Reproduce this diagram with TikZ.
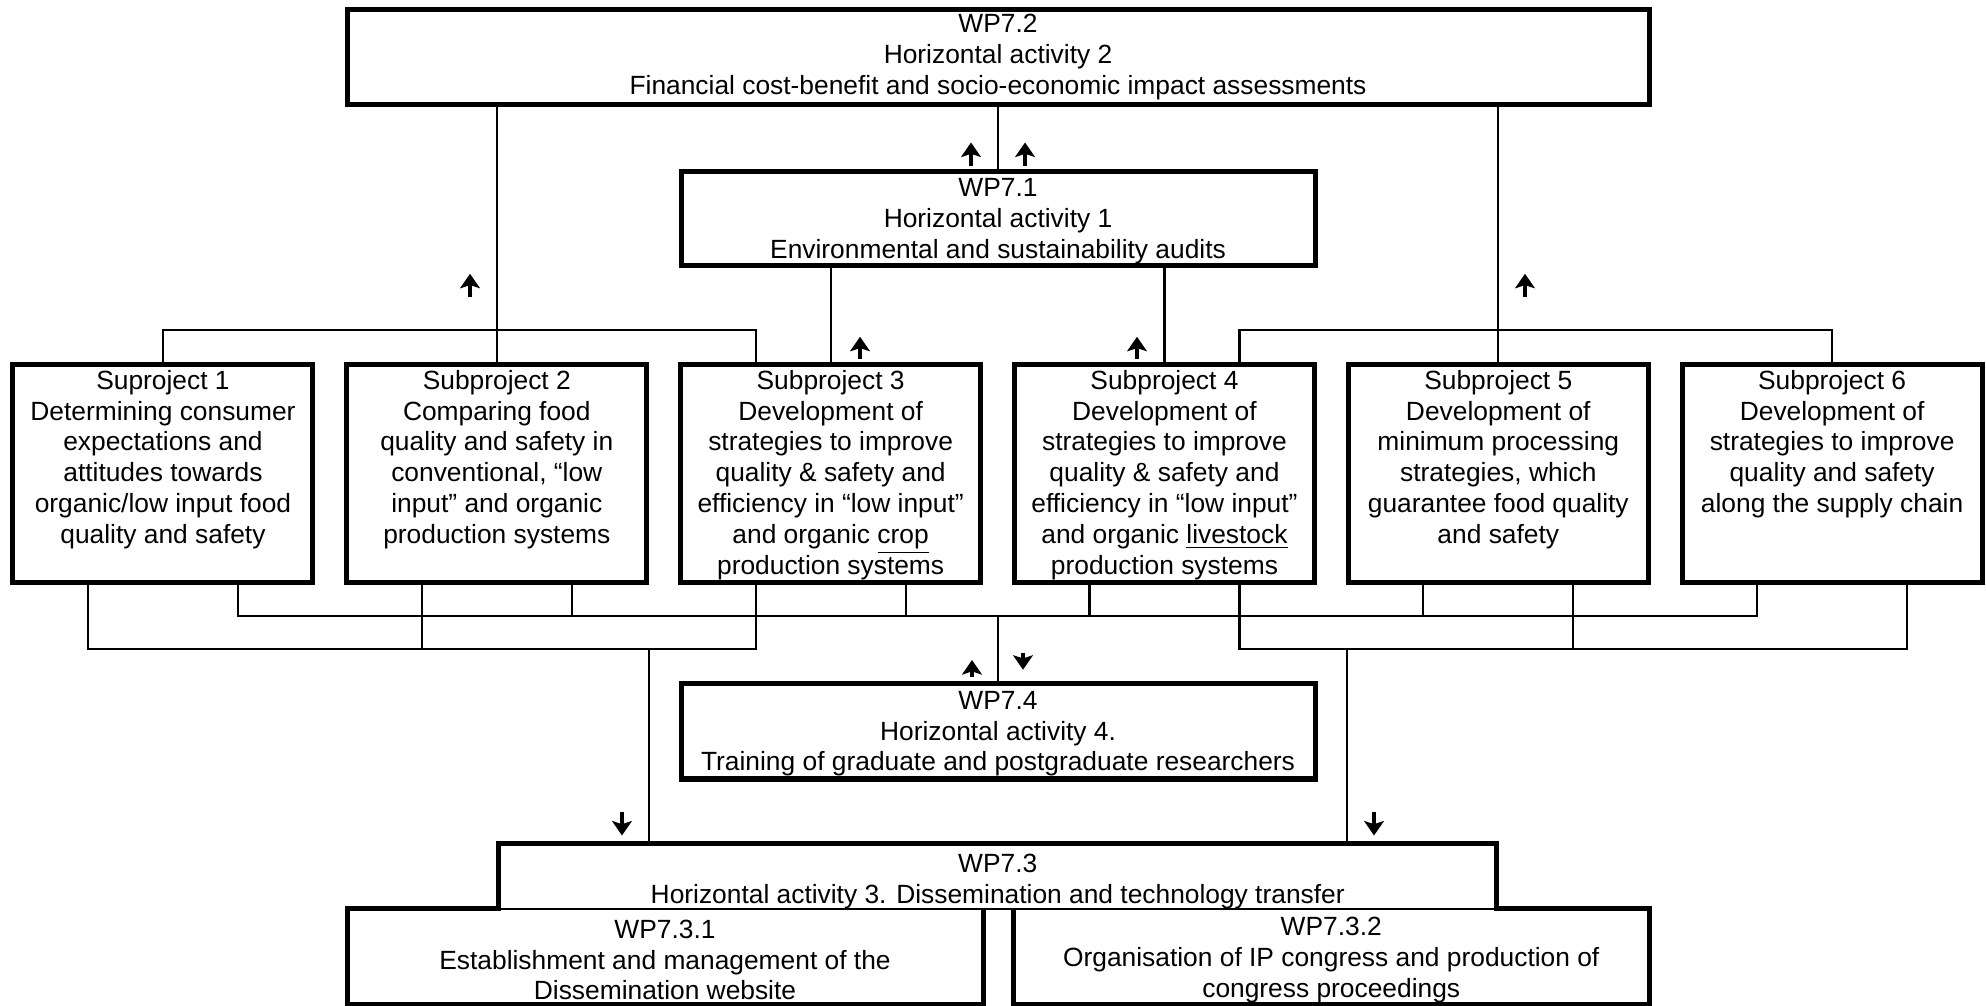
\documentclass[tikz,border=0pt]{standalone}
\usepackage{fontspec}
\setmainfont{Liberation Sans}
\usetikzlibrary{calc,arrows.meta}

\newcommand{\subtxt}[1]{\parbox[t][2.9cm][t]{3.9cm}{\centering\rule{0pt}{9.4pt}#1}}
\newcommand{\topgap}[1]{\rule{0pt}{#1}}

\begin{document}
\begin{tikzpicture}[font=\fontsize{10}{11.7}\selectfont,
  wpbox/.style={draw,line width=1.9pt,align=center,inner sep=0pt,outer sep=0pt},
  subbox/.style={draw,line width=1.9pt,inner sep=0pt,outer sep=0pt,minimum width=4cm,anchor=north},
  bare/.style={align=center,inner sep=0pt,outer sep=0pt},
  boxline/.style={line width=1.9pt},
  link/.style={line width=0.8pt},
  flow/.style={line width=1.5pt,-{Stealth[length=5.5pt,width=7.5pt,inset=1.2pt]}}]
\useasboundingbox (0,0) rectangle (26.48,-13.413);

\node[wpbox,minimum width=17.36cm,minimum height=1.267cm] (wp72) at (13.307,-0.76)
  {WP7.2\\Horizontal activity 2\\Financial cost-benefit and socio-economic impact assessments};
\node[wpbox,minimum width=8.453cm,minimum height=1.253cm] (wp71) at (13.307,-2.907)
  {\topgap{9.5pt}WP7.1\\Horizontal activity 1\\Environmental and sustainability audits};

\node[subbox] (s1) at (2.173,-4.86) {\subtxt{Suproject 1\\Determining consumer\\expectations and\\attitudes towards\\organic/low input food\\quality and safety}};
\node[subbox] (s2) at (6.624,-4.86) {\subtxt{Subproject 2\\Comparing food\\quality and safety in\\conventional, “low\\input” and organic\\production systems}};
\node[subbox] (s3) at (11.075,-4.86) {\subtxt{Subproject 3\\Development of\\strategies to improve\\quality \& safety and\\efficiency in “low input”\\and organic \underline{crop}\\production systems}};
\node[subbox] (s4) at (15.526,-4.86) {\subtxt{Subproject 4\\Development of\\strategies to improve\\quality \& safety and\\efficiency in “low input”\\and organic \underline{livestock}\\production systems}};
\node[subbox] (s5) at (19.977,-4.86) {\subtxt{Subproject 5\\Development of\\minimum processing\\strategies, which\\guarantee food quality\\and safety}};
\node[subbox] (s6) at (24.428,-4.86) {\subtxt{Subproject 6\\Development of\\strategies to improve\\quality and safety\\along the supply chain}};

\node[wpbox,minimum width=8.453cm,minimum height=1.267cm] (wp74) at (13.307,-9.753)
  {\topgap{8.6pt}WP7.4\\Horizontal activity 4.\\Training of graduate and postgraduate researchers};

\node[bare,minimum width=13.313cm,minimum height=0.847cm] (wp73) at (13.303,-11.68)
  {\topgap{11pt}WP7.3\\Horizontal activity 3. Dissemination and technology transfer};
\node[bare,minimum width=8.48cm,minimum height=1.28cm] (wp731) at (8.867,-12.747)
  {\topgap{10pt}WP7.3.1\\Establishment and management of the\\Dissemination website};
\node[bare,minimum width=8.473cm,minimum height=1.28cm] (wp732) at (17.75,-12.747)
  {\topgap{10pt}WP7.3.2\\Organisation of IP congress and production of\\congress proceedings};

% outline of WP7.3 and its two parts
\draw[link] (wp73.south west) -- (wp73.south east);
\draw[boxline] (wp731.north east) -- (wp731.south east) -- (wp731.south west) |- (wp73.south west)
  |- (wp73.north east) -- (wp73.south east) -| (wp732.south east) -- (wp732.south west) -- (wp732.north west);

% upper links
\draw[link] (wp72.south) -- (wp71.north);
\draw[link] (wp72.south -| s2.north) -- (s2.north);
\draw[link] (wp72.south -| s5.north) -- (s5.north);
\draw[link] (wp71.south -| s3.north) -- (s3.north);
\draw[link] (wp71.south -| s4.north) -- (s4.north);
\draw[link] (s1.north) -- ++(0,0.46) -| ($(s3.north)+(-1,0)$);
\draw[link] (s6.north) -- ++(0,0.46) -| ($(s4.north)+(1,0)$);

% lower links
\coordinate (s1a) at ($(s1.south)+(-1,0)$);
\coordinate (s1b) at ($(s1.south)+(1,0)$);
\coordinate (s2a) at ($(s2.south)+(-1,0)$);
\coordinate (s2b) at ($(s2.south)+(1,0)$);
\coordinate (s3a) at ($(s3.south)+(-1,0)$);
\coordinate (s3b) at ($(s3.south)+(1,0)$);
\coordinate (s4a) at ($(s4.south)+(-1,0)$);
\coordinate (s4b) at ($(s4.south)+(1,0)$);
\coordinate (s5a) at ($(s5.south)+(-1,0)$);
\coordinate (s5b) at ($(s5.south)+(1,0)$);
\coordinate (s6a) at ($(s6.south)+(-1,0)$);
\coordinate (s6b) at ($(s6.south)+(1,0)$);
\coordinate (up) at (0,-8.213);
\coordinate (lo) at (0,-8.653);

\draw[link] (s1b) |- (s6a |- up) -- (s6a);
\draw[link] (s2b) -- (s2b |- up);
\draw[link] (s3b) -- (s3b |- up);
\draw[link] (s4a) -- (s4a |- up);
\draw[link] (s5a) -- (s5a |- up);
\draw[link] (s1a) |- (s3a |- lo) -- (s3a);
\draw[link] (s2a) -- (s2a |- lo);
\draw[link] (s4b) |- (s6b |- lo) -- (s6b);
\draw[link] (s5b) -- (s5b |- lo);
\draw[link] (wp74.north) -- (wp74.north |- up);

\coordinate (dl) at (8.653,-8.653);
\coordinate (dr) at (17.96,-8.653);
\draw[link] (dl) -- (dl |- wp73.north);
\draw[link] (dr) -- (dr |- wp73.north);

% arrows
\draw[flow] (6.267,-3.96) -- (6.267,-3.65);
\draw[flow] (20.333,-3.96) -- (20.333,-3.65);
\draw[flow] (12.947,-2.213) -- (12.947,-1.9);
\draw[flow] (13.667,-2.213) -- (13.667,-1.9);
\draw[flow] (11.467,-4.78) -- (11.467,-4.49);
\draw[flow] (15.16,-4.78) -- (15.16,-4.49);
\draw[flow] (12.96,-9.03) -- (12.96,-8.8);
\draw[flow] (13.64,-8.7) -- (13.64,-8.93);
\draw[flow] (8.293,-10.82) -- (8.293,-11.14);
\draw[flow] (18.32,-10.82) -- (18.32,-11.14);

\end{tikzpicture}
\end{document}
